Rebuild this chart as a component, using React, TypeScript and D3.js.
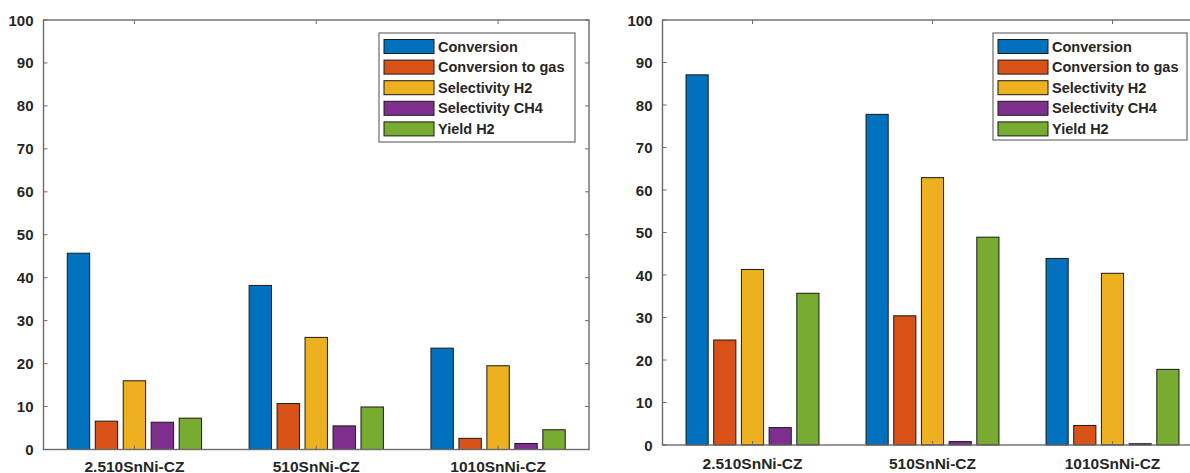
import React from "react";
import * as d3 from "d3";

const categories = ["2.510SnNi-CZ", "510SnNi-CZ", "1010SnNi-CZ"];
const seriesNames = ["Conversion", "Conversion to gas", "Selectivity H2", "Selectivity CH4", "Yield H2"];
const seriesColors = ["#0072BD", "#D95319", "#EDB120", "#7E2F8E", "#77AC30"];
const yTicks = [0, 10, 20, 30, 40, 50, 60, 70, 80, 90, 100];

// values per series, one entry per category
const leftConversion = [45.7, 38.2, 23.6];
const leftConversionGas = [6.6, 10.7, 2.6];
const leftSelH2 = [16.0, 26.1, 19.5];
const leftSelCH4 = [6.35, 5.5, 1.4];
const leftYieldH2 = [7.3, 9.9, 4.6];

const rightConversion = [87.1, 77.8, 43.9];
const rightConversionGas = [24.7, 30.4, 4.6];
const rightSelH2 = [41.3, 62.9, 40.4];
const rightSelCH4 = [4.1, 0.8, 0.3];
const rightYieldH2 = [35.7, 48.9, 17.8];

const leftSeries = [leftConversion, leftConversionGas, leftSelH2, leftSelCH4, leftYieldH2];
const rightSeries = [rightConversion, rightConversionGas, rightSelH2, rightSelCH4, rightYieldH2];

const FONT = "'Liberation Sans', Arial, sans-serif";
const TEXT = "#262626";
const AXIS = "#6b6b6b";

type PanelProps = {
  series: number[][];
  left: number;
  right: number;
  top: number;
  bottom: number;
  legendX: number;
  legendY: number;
  legendW: number;
  legendH: number;
  catLabelY: number;
};

function Panel(p: PanelProps) {
  const x = d3.scaleLinear().domain([0.5, 3.5]).range([p.left, p.right]);
  const y = d3.scaleLinear().domain([0, 100]).range([p.bottom, p.top]);
  const n = p.series.length;
  const groupWidth = Math.min(0.8, n / (n + 1.5));
  const step = groupWidth / n;
  const barW = x(0.5 + step * 0.8) - x(0.5);
  const tickLen = 4;

  return (
    <g>
      {/* bars */}
      {p.series.map((vals, si) =>
        vals.map((v, ci) => {
          const cx = x(ci + 1 + (si - (n - 1) / 2) * step);
          return (
            <rect
              key={`b${si}-${ci}`}
              x={cx - barW / 2}
              y={y(v)}
              width={barW}
              height={y(0) - y(v)}
              fill={seriesColors[si]}
              stroke="#1a1a1a"
              strokeWidth={1}
            />
          );
        })
      )}
      {/* frame */}
      <rect
        x={p.left}
        y={p.top}
        width={p.right - p.left}
        height={p.bottom - p.top}
        fill="none"
        stroke={AXIS}
        strokeWidth={1.4}
      />
      {/* y ticks on both sides */}
      {yTicks.map((t) => (
        <g key={`yt${t}`}>
          <line x1={p.left} x2={p.left + tickLen} y1={y(t)} y2={y(t)} stroke={AXIS} strokeWidth={1} />
          <line x1={p.right} x2={p.right - tickLen} y1={y(t)} y2={y(t)} stroke={AXIS} strokeWidth={1} />
          <text
            x={p.left - 10}
            y={y(t)}
            textAnchor="end"
            dominantBaseline="central"
            fontFamily={FONT}
            fontWeight="bold"
            fontSize={15}
            fill={TEXT}
          >
            {t}
          </text>
        </g>
      ))}
      {/* category ticks and labels */}
      {categories.map((c, i) => (
        <g key={`c${i}`}>
          <line x1={x(i + 1)} x2={x(i + 1)} y1={p.bottom} y2={p.bottom - tickLen} stroke={AXIS} strokeWidth={1} />
          <line x1={x(i + 1)} x2={x(i + 1)} y1={p.top} y2={p.top + tickLen} stroke={AXIS} strokeWidth={1} />
          <text
            x={x(i + 1)}
            y={p.catLabelY}
            textAnchor="middle"
            fontFamily={FONT}
            fontWeight="bold"
            fontSize={15.5}
            fill={TEXT}
          >
            {c}
          </text>
        </g>
      ))}
      {/* legend */}
      <rect
        x={p.legendX}
        y={p.legendY}
        width={p.legendW}
        height={p.legendH}
        fill="#fff"
        stroke={AXIS}
        strokeWidth={1.2}
      />
      {seriesNames.map((name, i) => {
        const cy = p.legendY + 13.5 + i * 20.6;
        return (
          <g key={`l${i}`}>
            <rect
              x={p.legendX + 5}
              y={cy - 7}
              width={50}
              height={14}
              fill={seriesColors[i]}
              stroke="#1a1a1a"
              strokeWidth={1}
            />
            <text
              x={p.legendX + 59}
              y={cy}
              dominantBaseline="central"
              fontFamily={FONT}
              fontWeight="bold"
              fontSize={14.5}
              fill={TEXT}
            >
              {name}
            </text>
          </g>
        );
      })}
    </g>
  );
}

export default function App() {
  return (
    <svg
      width={1190}
      height={473}
      style={{ position: "absolute", left: 0, top: 0, background: "#fff" }}
    >
      <Panel
        series={leftSeries}
        left={43.5}
        right={589}
        top={20}
        bottom={449.5}
        legendX={379}
        legendY={33}
        legendW={196}
        legendH={109}
        catLabelY={471.5}
      />
      <Panel
        series={rightSeries}
        left={662.5}
        right={1202.5}
        top={20}
        bottom={445}
        legendX={993}
        legendY={33}
        legendW={194}
        legendH={107}
        catLabelY={468.5}
      />
    </svg>
  );
}
